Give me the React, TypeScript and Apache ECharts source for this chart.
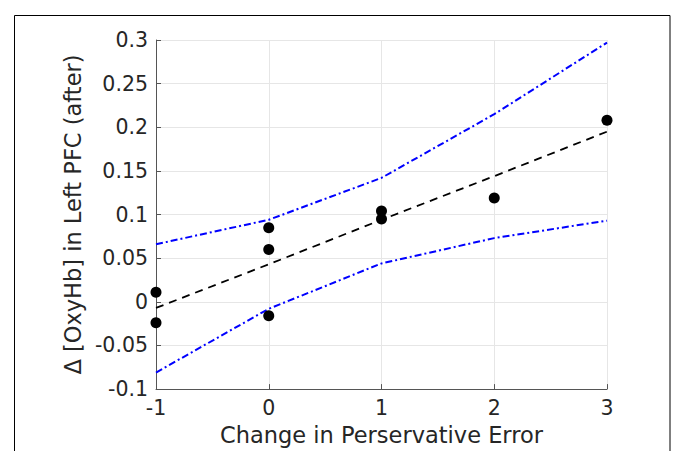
import React, { useEffect, useRef } from "react";
import * as echarts from "echarts";

const xTicks = [-1, 0, 1, 2, 3];
const pointsX = [-1, -1, 0, 0, 0, 1, 1, 2, 3];
const pointsY = [0.011, -0.024, 0.085, 0.06, -0.016, 0.104, 0.095, 0.119, 0.208];
const fitY = [-0.007, 0.043, 0.094, 0.144, 0.195];
const upperY = [0.066, 0.094, 0.142, 0.215, 0.297];
const lowerY = [-0.081, -0.008, 0.044, 0.073, 0.093];

const FONT = "DejaVu Sans";

export default function App() {
  const ref = useRef<HTMLDivElement>(null);
  useEffect(() => {
    const chart = echarts.init(ref.current!, null, { renderer: "svg" });
    const pair = (ys: number[]) => xTicks.map((x, i) => [x, ys[i]]);
    chart.setOption({
      animation: false,
      backgroundColor: "#ffffff",
      textStyle: { fontFamily: FONT },
      grid: { left: 156, right: 66, top: 40, bottom: 57 },
      graphic: [
        {
          type: "rect",
          shape: { x: 14.5, y: 15.5, width: 655.5, height: 460 },
          style: { fill: "none", stroke: "#000", lineWidth: 1 },
          silent: true,
        },
      ],
      xAxis: {
        type: "value",
        min: -1,
        max: 3,
        interval: 1,
        name: "Change in Perservative Error",
        nameLocation: "middle",
        nameGap: 31,
        nameTextStyle: { fontSize: 22.5, color: "#262626", fontFamily: FONT },
        axisLine: { show: true, onZero: false, lineStyle: { color: "#555", width: 1 } },
        axisTick: { show: true, inside: true, length: 5, lineStyle: { color: "#555" } },
        axisLabel: { fontSize: 20.5, color: "#262626", margin: 8, fontFamily: FONT },
        splitLine: { show: true, lineStyle: { color: "#e6e6e6", width: 1 } },
      },
      yAxis: {
        type: "value",
        min: -0.1,
        max: 0.3,
        interval: 0.05,
        name: "\u0394 [OxyHb] in Left PFC (after)",
        nameLocation: "middle",
        nameGap: 64,
        nameRotate: 90,
        nameTextStyle: { fontSize: 22.5, color: "#262626", fontFamily: FONT },
        axisLine: { show: true, onZero: false, lineStyle: { color: "#555", width: 1 } },
        axisTick: { show: true, inside: true, length: 5, lineStyle: { color: "#555" } },
        axisLabel: {
          fontSize: 20.5,
          color: "#262626",
          margin: 8,
          fontFamily: FONT,
          formatter: (v: number) => String(parseFloat(v.toFixed(2))),
        },
        splitLine: { show: true, lineStyle: { color: "#e6e6e6", width: 1 } },
      },
      series: [
        {
          type: "line",
          data: pair(upperY),
          symbol: "none",
          lineStyle: { color: "#0000ff", width: 2, type: [7, 3, 2, 3] },
          z: 3,
        },
        {
          type: "line",
          data: pair(lowerY),
          symbol: "none",
          lineStyle: { color: "#0000ff", width: 2, type: [7, 3, 2, 3] },
          z: 3,
        },
        {
          type: "line",
          data: pair(fitY),
          symbol: "none",
          lineStyle: { color: "#000000", width: 1.8, type: [8, 6] },
          z: 3,
        },
        {
          type: "scatter",
          data: pointsX.map((x, i) => [x, pointsY[i]]),
          symbol: "circle",
          symbolSize: 11,
          itemStyle: { color: "#000000", opacity: 1 },
          z: 4,
        },
      ],
    });
    return () => chart.dispose();
  }, []);
  return (
    <div
      ref={ref}
      style={{ position: "fixed", left: 0, top: 0, width: 673, height: 451, background: "#fff" }}
    />
  );
}
